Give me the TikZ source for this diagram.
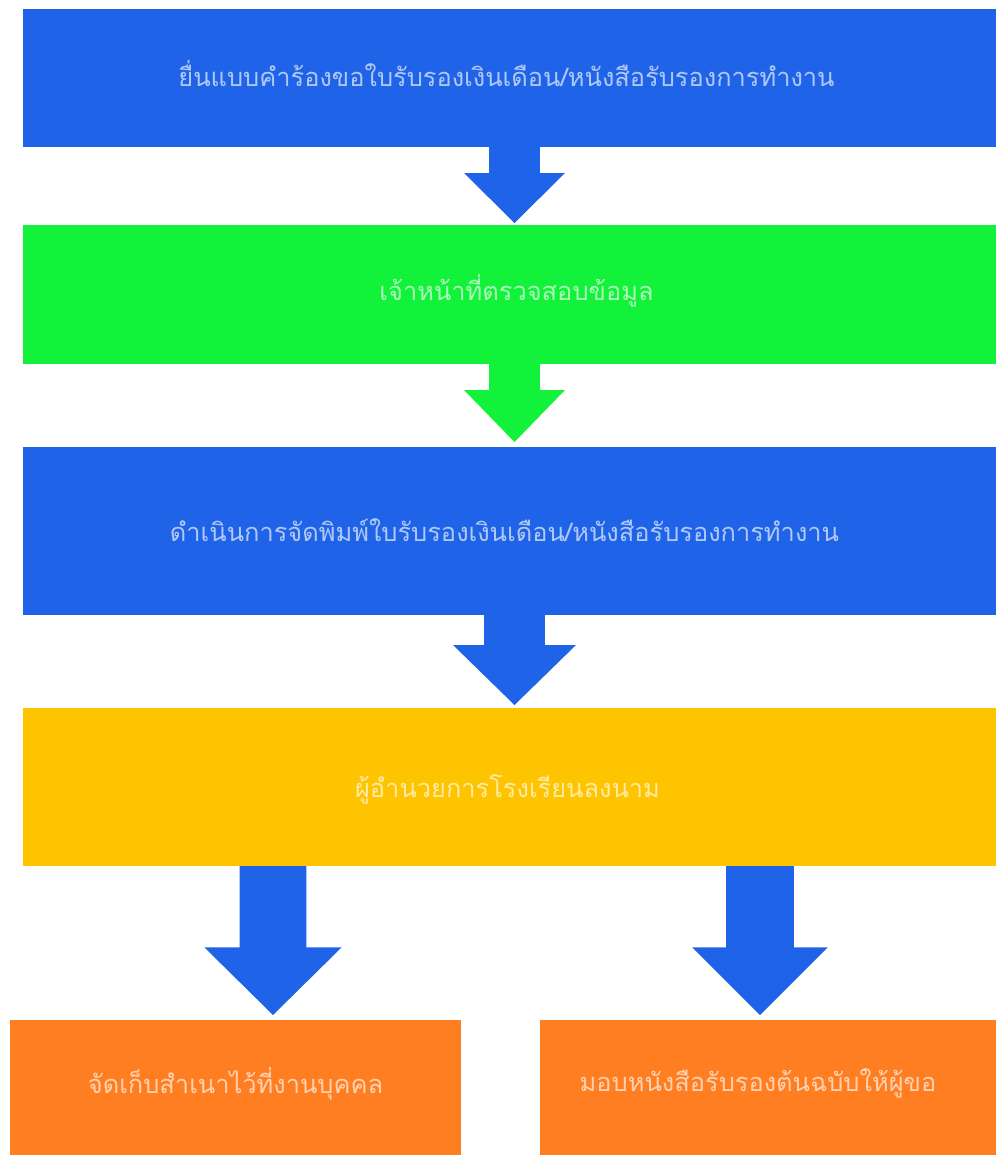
\documentclass[tikz,border=0pt]{standalone}
\usepackage{fontspec}
\newfontfamily\thaifont[Script=Thai]{Loma}
\usetikzlibrary{calc}
\definecolor{cblue}{RGB}{31,99,232}
\definecolor{cgreen}{RGB}{18,242,58}
\definecolor{cyellow}{RGB}{255,196,0}
\definecolor{corange}{RGB}{255,126,34}
\tikzset{
  stepbox/.style={rectangle, inner sep=0pt, outer sep=0pt, draw=none},
  steptext/.style={inner sep=0pt, font=\thaifont\fontsize{25.5}{30}\selectfont, text=white, text opacity=0.65},
}
% block arrow: #1 start node anchor, #2 end node anchor (tip x taken from #1),
% #3 half shaft width, #4 half head width, #5 head length, #6 colour
\newcommand\blockarr[6]{%
  \fill[#6] let \p1=(#1), \p2=(#2) in
    (\x1-#3pt,\y1) -- (\x1+#3pt,\y1) -- (\x1+#3pt,\y2+#5pt) -- (\x1+#4pt,\y2+#5pt)
    -- (\x1,\y2) -- (\x1-#4pt,\y2+#5pt) -- (\x1-#3pt,\y2+#5pt) -- cycle;}
\begin{document}
\begin{tikzpicture}[x=1bp,y=-1bp]
\useasboundingbox[fill=white] (0,0) rectangle (996,1155);
% boxes
\node[stepbox, fill=cblue, minimum width=973bp, minimum height=138bp] (b1) at (509.5,78) {};
\node[stepbox, fill=cgreen, minimum width=973bp, minimum height=139bp] (b2) at (509.5,294.5) {};
\node[stepbox, fill=cblue, minimum width=973bp, minimum height=168bp] (b3) at (509.5,531) {};
\node[stepbox, fill=cyellow, minimum width=973bp, minimum height=158bp] (b4) at (509.5,787) {};
\node[stepbox, fill=corange, minimum width=451bp, minimum height=135bp] (b5) at (235.5,1087.5) {};
\node[stepbox, fill=corange, minimum width=456bp, minimum height=135bp] (b6) at (768,1087.5) {};
% texts
\node[steptext] (t1) at ($(b1.center)+(-3,-4)$) {ยื่นแบบคำร้องขอใบรับรองเงินเดือน/หนังสือรับรองการทำงาน};
\node[steptext] (t2) at ($(b2.center)+(7,-4)$) {เจ้าหน้าที่ตรวจสอบข้อมูล};
\node[steptext] (t3) at ($(b3.center)+(-5,-1)$) {ดำเนินการจัดพิมพ์ใบรับรองเงินเดือน/หนังสือรับรองการทำงาน};
\node[steptext] (t4) at ($(b4.center)+(-2,2)$) {ผู้อำนวยการโรงเรียนลงนาม};
\node[steptext] (t5) at ($(b5.center)+(0,-4)$) {จัดเก็บสำเนาไว้ที่งานบุคคล};
\node[steptext] (t6) at ($(b6.center)+(-10,-4)$) {มอบหนังสือรับรองต้นฉบับให้ผู้ขอ};
% anchor points for arrows
\coordinate (a1s) at ($(b1.south)+(5,0)$);
\coordinate (a1e) at ($(b2.north)+(0,-2)$);
\coordinate (a2s) at ($(b2.south)+(5,0)$);
\coordinate (a2e) at ($(b3.north)+(0,-5)$);
\coordinate (a3s) at ($(b3.south)+(5,0)$);
\coordinate (a3e) at ($(b4.north)+(0,-3)$);
\coordinate (a4s) at (b4.south -| 273,0);
\coordinate (a4e) at ($(b5.north)+(0,-5)$);
\coordinate (a5s) at (b4.south -| 760,0);
\coordinate (a5e) at ($(b6.north)+(0,-5)$);
% arrows
\blockarr{a1s}{a1e}{25.5}{50.5}{50}{cblue}
\blockarr{a2s}{a2e}{25.5}{50.5}{52}{cgreen}
\blockarr{a3s}{a3e}{30.5}{61.5}{60}{cblue}
\blockarr{a4s}{a4e}{33.5}{69}{68}{cblue}
\blockarr{a5s}{a5e}{34}{68}{68}{cblue}
\end{tikzpicture}
\end{document}
